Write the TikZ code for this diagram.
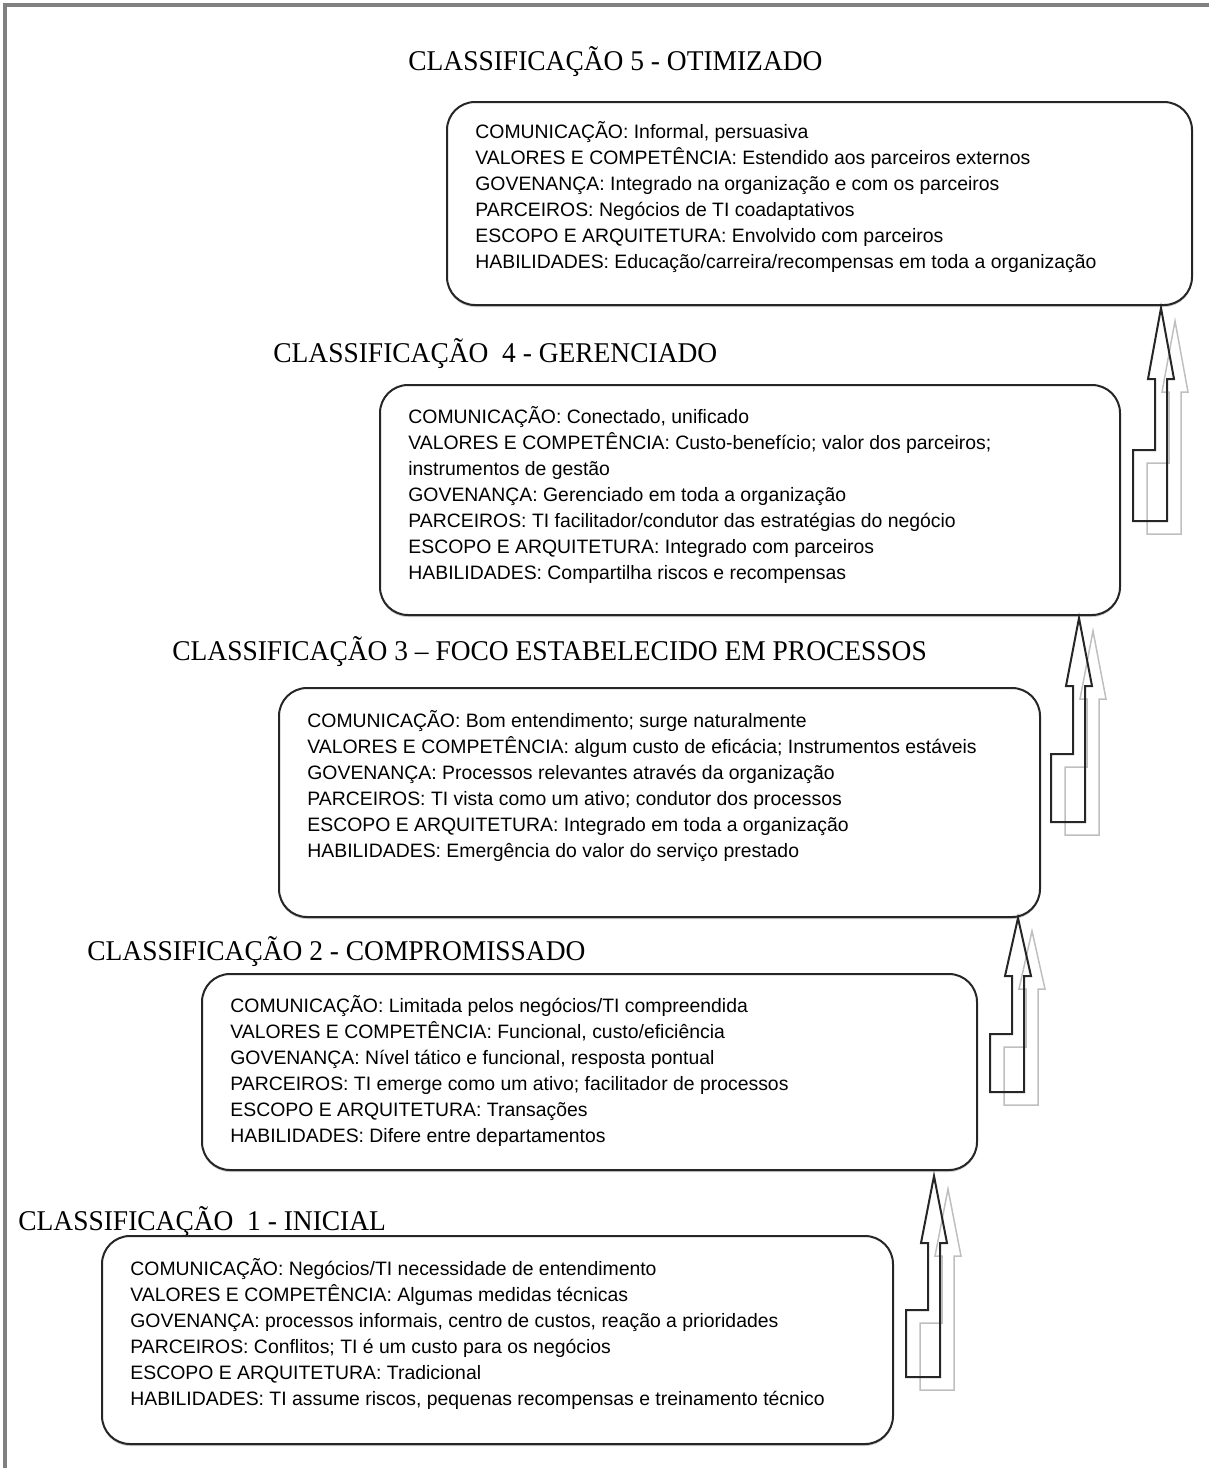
\documentclass[tikz,border=0pt]{standalone}
\usepackage{fontspec}
\setmainfont{Liberation Serif}
\setsansfont{Liberation Sans}
\newfontfamily\headfont{Liberation Serif}[FakeStretch=0.96]
\usetikzlibrary{calc,fit,shadows}

\begin{document}
\begin{tikzpicture}[
    x=0.5pt,y=-0.5pt,
    frame/.style={draw=black!50,line width=2pt},
    level/.style={draw=black!85,line width=1pt,fill=white,rounded corners=14pt,
      inner sep=0pt,drop shadow={shadow xshift=0pt,shadow yshift=-1pt,fill=black!40}},
    entries/.style={anchor=north west,inner sep=0pt,align=left,
      font=\sffamily\fontsize{9.7}{13}\selectfont},
    heading/.style={anchor=base west,inner sep=0pt,font=\headfont\fontsize{14.3}{16}\selectfont},
    pics/steparrow/.style={code={
      \draw[line width=0.75pt,draw=black!25,shift={(14,13)}] (0,0) -- (13,#1) -- (6,#1)
        -- (6,{3*#1}) -- (-28,{3*#1}) -- (-28,{2*#1}) -- (-6,{2*#1}) -- (-6,#1) -- (-13,#1) -- cycle;
      \draw[line width=1pt,draw=black!85] (0,0) -- (13,#1) -- (6,#1)
        -- (6,{3*#1}) -- (-28,{3*#1}) -- (-28,{2*#1}) -- (-6,{2*#1}) -- (-6,#1) -- (-13,#1) -- cycle;
    }}
  ]
    \useasboundingbox (0,0) rectangle (1209,1468);
    \draw[frame] (5,1468) -- (5,5) -- (1209,5);

    \node[heading] (title5) at (408,70) {CLASSIFICAÇÃO 5 - OTIMIZADO};
    \node[level,fit={(447,102) (1192,305)}] (box5) {};
    \node[entries] (text5) at ($(box5.north west)+(29,19)$) {\strut COMUNICAÇÃO: Informal, persuasiva\\
      VALORES E COMPETÊNCIA: Estendido aos parceiros externos\\
      GOVENANÇA: Integrado na organização e com os parceiros\\
      PARCEIROS: Negócios de TI coadaptativos\\
      ESCOPO E ARQUITETURA: Envolvido com parceiros\\
      HABILIDADES: Educação/carreira/recompensas em toda a organização};

    \node[heading] (title4) at (273,362) {CLASSIFICAÇÃO\ \ 4 - GERENCIADO};
    \node[level,fit={(380,385) (1120,615)}] (box4) {};
    \node[entries] (text4) at ($(box4.north west)+(29,21)$) {\strut COMUNICAÇÃO: Conectado, unificado\\
      VALORES E COMPETÊNCIA: Custo-benefício; valor dos parceiros;\\
      instrumentos de gestão\\
      GOVENANÇA: Gerenciado em toda a organização\\
      PARCEIROS: TI facilitador/condutor das estratégias do negócio\\
      ESCOPO E ARQUITETURA: Integrado com parceiros\\
      HABILIDADES: Compartilha riscos e recompensas};

    \node[heading] (title3) at (172,660) {CLASSIFICAÇÃO 3 – FOCO ESTABELECIDO EM PROCESSOS};
    \node[level,fit={(279,688) (1040,917)}] (box3) {};
    \node[entries] (text3) at ($(box3.north west)+(29,22)$) {\strut COMUNICAÇÃO: Bom entendimento; surge naturalmente\\
      VALORES E COMPETÊNCIA: algum custo de eficácia; Instrumentos estáveis\\
      GOVENANÇA: Processos relevantes através da organização\\
      PARCEIROS: TI vista como um ativo; condutor dos processos\\
      ESCOPO E ARQUITETURA: Integrado em toda a organização\\
      HABILIDADES: Emergência do valor do serviço prestado};

    \node[heading] (title2) at (87,960) {CLASSIFICAÇÃO 2 - COMPROMISSADO};
    \node[level,fit={(202,974) (977,1170)}] (box2) {};
    \node[entries] (text2) at ($(box2.north west)+(29,21)$) {\strut COMUNICAÇÃO: Limitada pelos negócios/TI compreendida\\
      VALORES E COMPETÊNCIA: Funcional, custo/eficiência\\
      GOVENANÇA: Nível tático e funcional, resposta pontual\\
      PARCEIROS: TI emerge como um ativo; facilitador de processos\\
      ESCOPO E ARQUITETURA: Transações\\
      HABILIDADES: Difere entre departamentos};

    \node[heading] (title1) at (18,1230) {CLASSIFICAÇÃO\ \ 1 - INICIAL};
    \node[level,fit={(102,1236) (893,1444)}] (box1) {};
    \node[entries] (text1) at ($(box1.north west)+(29,22)$) {\strut COMUNICAÇÃO: Negócios/TI necessidade de entendimento\\
      VALORES E COMPETÊNCIA: Algumas medidas técnicas\\
      GOVENANÇA: processos informais, centro de custos, reação a prioridades\\
      PARCEIROS: Conflitos; TI é um custo para os negócios\\
      ESCOPO E ARQUITETURA: Tradicional\\
      HABILIDADES: TI assume riscos, pequenas recompensas e treinamento técnico};

    % degraus entre as classificacoes
    \pic at ($(box2.south east)+(-44,5)$) {steparrow=67};
    \pic at ($(box3.south east)+(-23,0)$) {steparrow=58};
    \pic at ($(box4.south east)+(-42,2)$) {steparrow=68};
    \pic at ($(box5.south east)+(-32,2)$) {steparrow=71};
\end{tikzpicture}
\end{document}
